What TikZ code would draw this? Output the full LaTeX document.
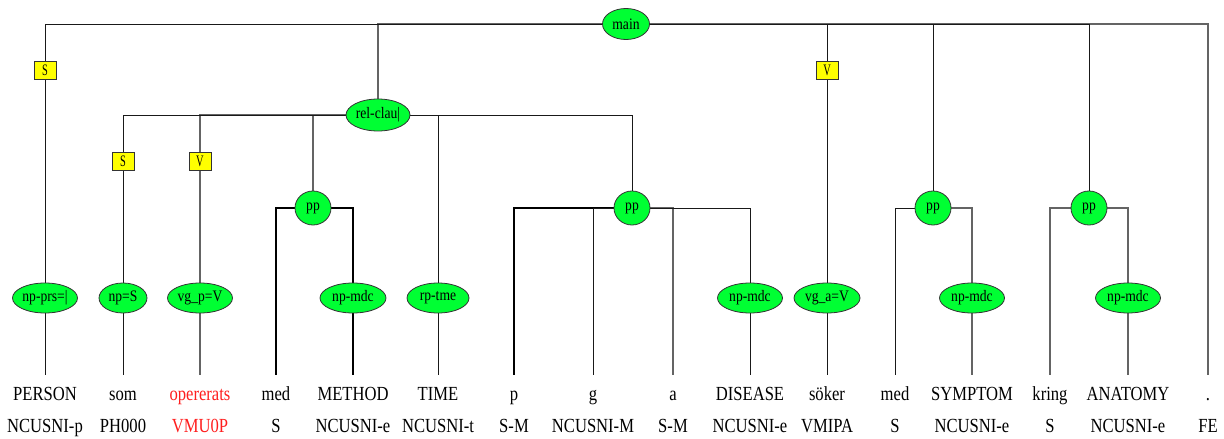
\documentclass[tikz,border=0pt]{standalone}
\usepackage{fontspec}
\setmainfont{Liberation Serif}
\newfontfamily\wordfont[FakeStretch=0.83]{Liberation Serif}
\newfontfamily\boxfont[FakeStretch=0.65]{Liberation Serif}
\newfontfamily\ellfont[FakeStretch=0.85]{Liberation Serif}
\usetikzlibrary{shapes.geometric,backgrounds}
\definecolor{nodegreen}{RGB}{0,255,51}
\definecolor{boxyellow}{RGB}{255,255,0}
\definecolor{wordred}{RGB}{255,30,30}
\definecolor{linedark}{RGB}{25,25,25}
\definecolor{linegray}{RGB}{100,100,100}
\begin{document}
\begin{tikzpicture}[x=1pt,y=-1pt,
  ell/.style={ellipse,draw=black!80,line width=0.8pt,fill=nodegreen,inner sep=0pt,
    minimum height=30pt,font=\ellfont\fontsize{16}{18}\selectfont},
  fbox/.style={rectangle,draw=black!80,line width=0.8pt,fill=boxyellow,inner sep=0pt,
    minimum width=22pt,minimum height=18pt,font=\boxfont\fontsize{16}{18}\selectfont},
  word/.style={anchor=north,inner xsep=0pt,inner ysep=11pt,text height=14pt,text depth=4pt,
    font=\wordfont\fontsize{20}{22}\selectfont},
  tag/.style={anchor=base,inner sep=0pt,font=\wordfont\fontsize{20}{22}\selectfont},
  dk/.style={draw=linedark,line width=1pt},
  gr/.style={draw=linegray,line width=1.1pt},
  thk/.style={draw=black,line width=1.5pt}
]
\useasboundingbox (0,0) rectangle (1224,439);

% upper nodes
\node[ell,minimum width=47pt,minimum height=31pt] (main) at (626,24) {main};
\node[ell,minimum width=64pt,minimum height=32pt] (relclau) at (378,115) {rel-clau|};
\node[ell,minimum width=36pt,minimum height=34pt] (pp1) at (313,208) {pp};
\node[ell,minimum width=36pt,minimum height=34pt] (pp2) at (632,208) {pp};
\node[ell,minimum width=36pt,minimum height=34pt] (pp3) at (933,208) {pp};
\node[ell,minimum width=36pt,minimum height=34pt] (pp4) at (1089,208) {pp};

% function boxes
\node[fbox] (b1) at (45,70) {S};
\node[fbox] (b2) at (123,161) {S};
\node[fbox] (b3) at (200,161) {V};
\node[fbox] (b4) at (827,70) {V};

% phrase ellipses
\node[ell,minimum width=65pt] (e1) at (45,298) {np-prs=|};
\node[ell,minimum width=48pt] (e2) at (123,298) {np=S};
\node[ell,minimum width=65pt] (e3) at (200,298) {vg\_p=V};
\node[ell,minimum width=66pt] (e4) at (353,298) {np-mdc};
\node[ell,minimum width=62pt] (e5) at (438,298) {rp-tme};
\node[ell,minimum width=65pt] (e6) at (750,298) {np-mdc};
\node[ell,minimum width=66pt] (e7) at (827,298) {vg\_a=V};
\node[ell,minimum width=65pt] (e8) at (972,298) {np-mdc};
\node[ell,minimum width=65pt] (e9) at (1128,298) {np-mdc};

% words
\node[word] (w1) at (45,375) {PERSON};
\node[word] (w2) at (123,375) {som};
\node[word,text=wordred] (w3) at (200,375) {opererats};
\node[word] (w4) at (276,375) {med};
\node[word] (w5) at (353,375) {METHOD};
\node[word] (w6) at (438,375) {TIME};
\node[word] (w7) at (514,375) {p};
\node[word] (w8) at (593,375) {g};
\node[word] (w9) at (673,375) {a};
\node[word] (w10) at (750,375) {DISEASE};
\node[word] (w11) at (827,375) {söker};
\node[word] (w12) at (895,375) {med};
\node[word] (w13) at (972,375) {SYMPTOM};
\node[word] (w14) at (1050,375) {kring};
\node[word] (w15) at (1128,375) {ANATOMY};
\node[word] (w16) at (1208,375) {.};

% tags
\node[tag] (t1) at (45,432) {NCUSNI-p};
\node[tag] (t2) at (123,432) {PH000};
\node[tag,text=wordred] (t3) at (200,432) {VMU0P};
\node[tag] (t4) at (276,432) {S};
\node[tag] (t5) at (353,432) {NCUSNI-e};
\node[tag] (t6) at (438,432) {NCUSNI-t};
\node[tag] (t7) at (514,432) {S-M};
\node[tag] (t8) at (593,432) {NCUSNI-M};
\node[tag] (t9) at (673,432) {S-M};
\node[tag] (t10) at (750,432) {NCUSNI-e};
\node[tag] (t11) at (827,432) {VMIPA};
\node[tag] (t12) at (895,432) {S};
\node[tag] (t13) at (972,432) {NCUSNI-e};
\node[tag] (t14) at (1050,432) {S};
\node[tag] (t15) at (1128,432) {NCUSNI-e};
\node[tag] (t16) at (1208,432) {FE};

\begin{scope}[on background layer]
  % gray connectors
  \draw[gr] (main) -| (relclau);
  \draw[gr] (relclau) -| (b3);
  \draw[gr] (b3) -- (e3);
  \draw[gr] (e3) -- (w3);
  \draw[gr] (relclau) -| (pp1);
  \draw[gr] (pp2) -| (w9);
  \draw[gr] (main) -| (w16);
  \draw[gr] (pp3) -| (e8);
  \draw[gr] (e8) -- (w13);
  \draw[gr] (pp4) -| (w14);
  \draw[gr] (pp4) -| (e9);
  \draw[gr] (e9) -- (w15);
  % dark connectors
  \draw[dk] (main) -| (b1);
  \draw[dk] (b1) -- (e1);
  \draw[dk] (e1) -- (w1);
  \draw[dk] (main) -| (b4);
  \draw[dk] (b4) -- (e7);
  \draw[dk] (e7) -- (w11);
  \draw[dk] (main) -| (pp3);
  \draw[dk] (main) -| (pp4);
  \draw[dk] (relclau) -| (b2);
  \draw[dk] (b2) -- (e2);
  \draw[dk] (e2) -- (w2);
  \draw[dk] (relclau) -| (e5);
  \draw[dk] (e5) -- (w6);
  \draw[dk] (relclau) -| (pp2);
  \draw[thk] (pp1) -| (w4);
  \draw[thk] (pp1) -| (e4);
  \draw[thk] (e4) -- (w5);
  \draw[thk] (pp2) -| (w7);
  \draw[dk] (pp2) -| (w8);
  \draw[dk] (pp2) -| (e6);
  \draw[dk] (e6) -- (w10);
  \draw[dk] (pp3) -| (w12);
\end{scope}
\end{tikzpicture}
\end{document}
